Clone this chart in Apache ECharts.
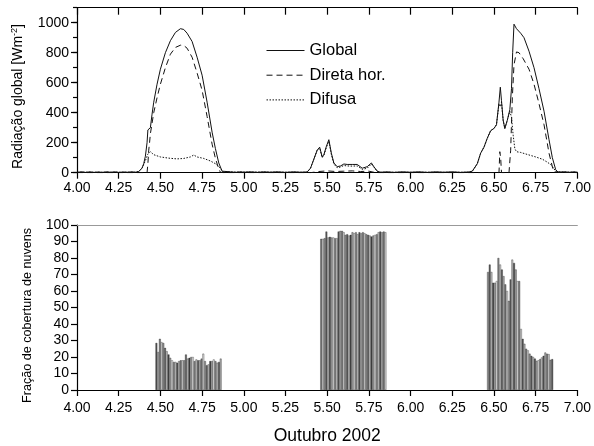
<!DOCTYPE html>
<html>
<head>
<meta charset="utf-8">
<script src="https://cdn.jsdelivr.net/npm/echarts@6/dist/echarts.min.js"></script>
<style>html,body{margin:0;padding:0;background:#fff}#c{width:594px;height:446px}</style>
</head>
<body>
<div id="c"></div>
<script>
// ---- Data ----
var xTicks = [4.00, 7.00, 0.25];            // min, max, step of day-of-month axis
var legendNames = ['Global', 'Direta hor.', 'Difusa'];

var globalData = [
 [4.00,3],[4.03,6],[4.05,2],[4.08,6],[4.10,2],[4.13,5],[4.15,2],[4.18,6],[4.20,3],[4.23,6],[4.25,2],[4.28,5],[4.30,3],[4.33,6],[4.35,3],[4.37,8],[4.39,30],[4.40,60],[4.41,110],
 [4.42,200],[4.425,285],[4.435,290],[4.44,300],[4.45,390],[4.46,470],[4.48,590],[4.50,690],[4.53,800],[4.56,880],
 [4.59,935],[4.62,960],[4.64,955],[4.66,930],[4.69,875],[4.72,770],[4.75,650],[4.78,470],[4.81,270],[4.83,160],
 [4.85,65],[4.87,10],[4.88,3],[4.92,6],[4.95,2],[4.98,6],[5.00,3],[5.04,6],[5.08,2],[5.12,6],[5.16,3],[5.20,6],[5.25,2],[5.30,6],[5.34,3],[5.38,5],
 [5.40,30],[5.42,90],[5.44,150],[5.455,170],[5.47,105],[5.48,120],[5.495,175],[5.51,220],[5.525,130],[5.54,65],
 [5.56,40],[5.58,45],[5.60,58],[5.62,55],[5.65,55],[5.68,55],[5.71,30],[5.74,40],[5.765,65],[5.78,40],[5.80,10],
 [5.82,3],[5.86,6],[5.90,2],[5.95,6],[6.00,3],[6.05,6],[6.10,2],[6.15,6],[6.20,3],[6.25,6],[6.30,2],[6.35,5],
 [6.37,10],[6.40,60],[6.42,130],[6.44,170],[6.46,230],[6.48,280],[6.50,295],[6.515,320],[6.53,470],[6.538,570],
 [6.545,480],[6.555,350],[6.565,295],[6.58,350],[6.595,420],[6.605,560],[6.612,800],[6.62,990],[6.635,960],
 [6.66,930],[6.68,900],[6.71,810],[6.74,700],[6.77,560],[6.80,410],[6.83,220],[6.85,100],[6.87,20],[6.885,3],
 [6.92,6],[6.95,2],[6.98,6],[7.00,3]
];
var directData = [
 [4.00,0],[4.35,0],[4.42,0],[4.425,60],[4.43,150],[4.435,200],[4.44,260],[4.45,330],[4.46,400],[4.48,500],
 [4.50,590],[4.53,700],[4.56,790],[4.59,835],[4.62,850],[4.64,848],[4.66,830],[4.69,770],[4.72,665],[4.75,550],
 [4.78,375],[4.81,190],[4.83,95],[4.85,25],[4.86,3],[4.88,0],
 [5.40,0],[5.45,8],[5.50,12],[5.55,8],[5.60,10],[5.65,12],[5.70,8],[5.75,10],[5.78,3],[5.80,0],
 [6.35,0],[6.53,0],[6.535,140],[6.54,100],[6.545,0],[6.59,0],[6.60,150],[6.61,500],[6.62,720],[6.635,805],
 [6.65,800],[6.675,760],[6.71,690],[6.74,590],[6.77,460],[6.80,320],[6.83,130],[6.85,40],[6.86,5],[6.87,0],[7.00,0]
];
var diffuseData = [
 [4.00,3],[4.35,3],[4.37,8],[4.39,30],[4.41,80],[4.425,125],[4.44,140],[4.46,120],[4.50,105],[4.55,97],[4.60,92],
 [4.64,95],[4.68,105],[4.70,118],[4.72,105],[4.76,95],[4.80,78],[4.83,60],[4.86,30],[4.875,5],[4.88,3],[5.38,3],
 [5.40,30],[5.42,90],[5.44,150],[5.455,165],[5.47,100],[5.48,115],[5.495,168],[5.51,210],[5.525,122],[5.54,58],
 [5.56,33],[5.58,38],[5.60,48],[5.62,45],[5.65,44],[5.68,45],[5.71,22],[5.74,30],[5.765,58],[5.78,37],[5.80,10],
 [5.82,3],[6.35,3],
 [6.37,10],[6.40,60],[6.42,130],[6.44,170],[6.46,230],[6.48,280],[6.50,295],[6.515,320],[6.53,460],[6.538,440],
 [6.545,470],[6.555,350],[6.565,295],[6.58,350],[6.595,410],[6.605,370],[6.615,250],[6.625,160],[6.635,140],
 [6.66,135],[6.69,125],[6.72,115],[6.75,105],[6.79,90],[6.82,70],[6.845,50],[6.86,25],[6.875,5],[6.885,3],[7.00,3]
];

// cloud cover fraction, 15-minute bars; each block: start time and values
var barStep = 1 / 96;
var block1Start = 4.476;
var block1 = [28.5,23,31,29,28.5,25.5,23.5,21.5,19.5,18,17,17,16.5,17.5,18,18,18,21.5,19,19.5,20,20,17.5,18.5,18,18,19,22,17.5,15,15.5,17.5,17.5,18.5,17.5,16.5,17,19];
var block2Start = 5.464;
var block2 = [91.6,91.6,92,96,92.4,92.8,92.4,92.4,92,92,96,96.4,96.4,95.6,94,94.4,93.6,94,95.6,95,95.6,94.4,95.6,95,95.6,95,94.4,94,93.6,93,93.6,94,94.4,95.6,96,95.6,96,95.6];
var block3Start = 6.464;
var block3 = [71.5,76,71.5,65,65,66,80,76,73,69,64,60,54,67,79,77,73,66,66,37,31,28,25,24,22,20.7,20,19,17.7,18,18.7,19.7,20.7,22.7,22,21.7,18.3,18.7];

// ---- Build ----
var barShades = ['#555','#b4b4b4','#7a7a7a','#dcdcdc','#969696','#5e5e5e','#c8c8c8','#444','#a8a8a8','#efefef','#888','#cfcfcf'];
function blockPairs(start, vals) {
  return vals.map(function (v, i) { return [start + i * barStep, v]; });
}
var barData = [].concat(blockPairs(block1Start, block1), blockPairs(block2Start, block2), blockPairs(block3Start, block3))
  .map(function (p, i) { return { value: p, itemStyle: { color: barShades[i % barShades.length] } }; });

var FONT = 'Liberation Sans, Arial, sans-serif';
function xAxisBase(grid, margin) {
  return {
    type: 'value', gridIndex: grid, min: xTicks[0], max: xTicks[1], interval: xTicks[2],
    axisLine: { show: true, onZero: false, lineStyle: { color: '#000', width: 1.2 } },
    axisTick: { show: true, length: 6, lineStyle: { color: '#000', width: 1.2 } },
    axisLabel: { show: true, margin: margin, color: '#000', fontSize: 14, fontFamily: FONT,
      formatter: function (v) { return v.toFixed(2); } },
    splitLine: { show: false }
  };
}
var chart = echarts.init(document.getElementById('c'), null, { renderer: 'canvas' });
var option = {
  animation: false,
  backgroundColor: '#fff',
  grid: [
    { left: 77, right: 13, top: 7.7, height: 165 },
    { left: 77, right: 13, top: 225, height: 166 }
  ],
  legend: {
    data: legendNames, orient: 'vertical', left: 266, top: 42, padding: 0, itemWidth: 38, itemHeight: 14, itemGap: 7.7,
    textStyle: { fontSize: 16.5, color: '#000', fontFamily: FONT }, itemStyle: { opacity: 0 },
    lineStyle: { width: 1 }
  },
  xAxis: [
    xAxisBase(0, 8),
    { type: 'value', gridIndex: 0, position: 'top', min: xTicks[0], max: xTicks[1], interval: xTicks[2],
      axisLine: { show: true, onZero: false, lineStyle: { color: '#000', width: 1.2 } },
      axisTick: { show: true, inside: true, length: 7, lineStyle: { color: '#000', width: 1.2 } },
      axisLabel: { show: false }, splitLine: { show: false } },
    Object.assign(xAxisBase(1, 11), {
      name: 'Outubro 2002', nameLocation: 'middle', nameGap: 37,
      nameTextStyle: { fontSize: 17.5, color: '#000', fontFamily: FONT } }),
    { type: 'value', gridIndex: 1, position: 'top', min: xTicks[0], max: xTicks[1], interval: xTicks[2],
      axisLine: { show: true, onZero: false, lineStyle: { color: '#999', width: 1 } },
      axisTick: { show: false }, axisLabel: { show: false }, splitLine: { show: false } }
  ],
  yAxis: [
    { type: 'value', gridIndex: 0, min: 0, max: 1100, interval: 200,
      axisLine: { show: true, lineStyle: { color: '#000', width: 1.2 } },
      axisTick: { show: true, length: 6, lineStyle: { color: '#000', width: 1.2 } },
      axisLabel: { color: '#000', fontSize: 14, fontFamily: FONT, margin: 8, showMaxLabel: false,
        formatter: function (v) { return String(v); } },
      splitLine: { show: false } },
    { type: 'value', gridIndex: 0, min: 0, max: 1100, interval: 100, position: 'left',
      axisLine: { show: false }, axisTick: { show: true, length: 4, lineStyle: { color: '#000', width: 1.2 } },
      axisLabel: { show: false }, splitLine: { show: false } },
    { type: 'value', gridIndex: 1, min: 0, max: 100, interval: 10,
      axisLine: { show: true, lineStyle: { color: '#000', width: 1.2 } },
      axisTick: { show: true, length: 6, lineStyle: { color: '#000', width: 1.2 } },
      axisLabel: { color: '#000', fontSize: 14, fontFamily: FONT, margin: 8 },
      splitLine: { show: false } }
  ],
  graphic: [
    { type: 'text', rotation: Math.PI / 2, x: 18, y: 96.5, z: 10,
      style: { text: 'Radiação global [Wm{sup|-2}]', rich: { sup: { fontSize: 9, verticalAlign: 'top', padding: [0, 0, 6, 0] } },
        fontSize: 14, fill: '#000', fontFamily: FONT, align: 'center', verticalAlign: 'middle' } },
    { type: 'text', rotation: Math.PI / 2, x: 28, y: 315.5, z: 10,
      style: { text: 'Fração de cobertura de nuvens', fontSize: 12.6, fill: '#000', fontFamily: FONT,
        align: 'center', verticalAlign: 'middle' } }
  ],
  series: [
    { name: legendNames[0], type: 'line', xAxisIndex: 0, yAxisIndex: 0, data: globalData, symbol: 'none',
      lineStyle: { color: '#111', width: 1, type: 'solid' }, itemStyle: { color: '#111' } },
    { name: legendNames[1], type: 'line', xAxisIndex: 0, yAxisIndex: 0, data: directData, symbol: 'none',
      lineStyle: { color: '#111', width: 1, type: [6, 4] }, itemStyle: { color: '#111' } },
    { name: legendNames[2], type: 'line', xAxisIndex: 0, yAxisIndex: 0, data: diffuseData, symbol: 'none',
      lineStyle: { color: '#111', width: 1, type: [1.5, 1.5] }, itemStyle: { color: '#111' } },
    { name: 'Fração', type: 'bar', xAxisIndex: 2, yAxisIndex: 2, data: barData, barWidth: 1.75,
      itemStyle: { borderColor: '#222', borderWidth: 0.35 } }
  ]
};
chart.setOption(option);
</script>
</body>
</html>
